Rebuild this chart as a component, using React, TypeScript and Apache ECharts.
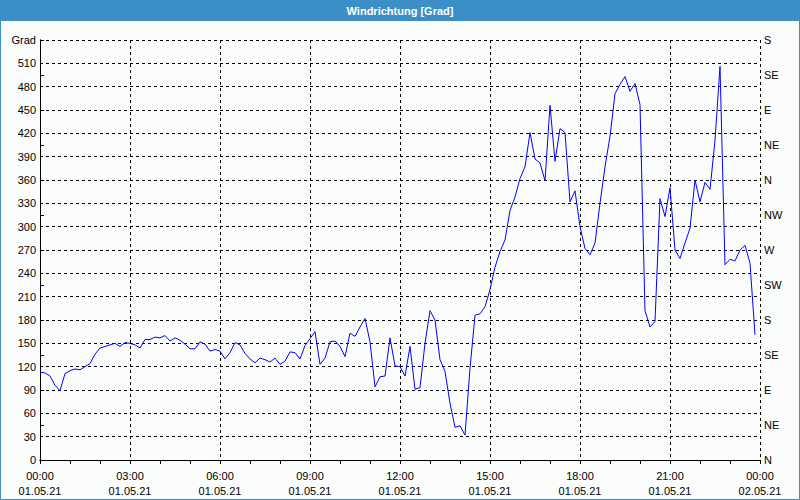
import React, { useEffect, useRef } from "react";
import * as echarts from "echarts";

const TITLE = "Windrichtung [Grad]";
const STEP_MINUTES = 10;
const START_DATE = "01.05.21";
const END_DATE = "02.05.21";
const DIRECTIONS = ["N", "NE", "E", "SE", "S", "SW", "W", "NW", "N", "NE", "E", "SE", "S"];
const VALUES = [
  113, 112, 108, 96, 89, 111, 115, 117, 116, 120,
  124, 136, 144, 146, 148, 150, 146, 151, 150, 148,
  144, 155, 155, 158, 157, 160, 153, 157, 154, 149,
  143, 143, 152, 149, 140, 142, 140, 130, 138, 151,
  148, 137, 130, 125, 131, 129, 126, 131, 123, 127,
  139, 138, 130, 147, 156, 165, 123, 131, 152, 153,
  146, 133, 163, 159, 171, 182, 152, 94, 107, 108,
  157, 121, 120, 108, 146, 91, 93, 150, 192, 180,
  129, 114, 73, 42, 44, 32, 118, 186, 188, 197,
  219, 248, 268, 283, 321, 338, 362, 377, 421, 387,
  382, 359, 456, 384, 426, 421, 332, 346, 300, 272,
  264, 279, 330, 377, 416, 471, 483, 493, 474, 484,
  457, 192, 171, 178, 336, 313, 350, 270, 259, 279,
  298, 360, 332, 357, 348, 411, 506, 251, 258, 256,
  270, 276, 253, 161,
];

const pad = (n: number) => (n < 10 ? "0" + n : "" + n);

export default function App() {
  const ref = useRef<HTMLDivElement>(null);
  useEffect(() => {
    if (!ref.current) return;
    const chart = echarts.init(ref.current, null, { renderer: "svg" });
    const data = VALUES.map((v, i) => [i * STEP_MINUTES, v]);
    const font = "Liberation Sans";
    chart.setOption({
      animation: false,
      backgroundColor: "#fbfdfc",
      textStyle: { fontFamily: font },
      graphic: [
        {
          type: "rect",
          shape: { x: 0, y: 0, width: 800, height: 21 },
          style: { fill: "#3c8fc6" },
          silent: true,
        },
        {
          type: "rect",
          shape: { x: 0.5, y: 0.5, width: 799, height: 499 },
          style: { fill: "none", stroke: "#3c8fc6", lineWidth: 1 },
          silent: true,
        },
        {
          type: "text",
          x: 400,
          y: 11,
          style: {
            text: TITLE,
            fill: "#ffffff",
            font: `bold 11px ${font}`,
            textAlign: "center",
            textVerticalAlign: "middle",
          },
        },
      ],
      grid: { left: 40, right: 40, top: 40, bottom: 40, containLabel: false },
      xAxis: [
        {
          type: "value",
          min: 0,
          max: 1440,
          interval: 180,
          axisLine: { show: true, lineStyle: { color: "#000", width: 1 } },
          axisTick: { show: true, length: 4, lineStyle: { color: "#000" } },
          minorTick: { show: true, splitNumber: 3, length: 4, lineStyle: { color: "#000" } },
          splitLine: { show: true, lineStyle: { color: "#000", type: [3, 3], width: 1 } },
          axisLabel: {
            color: "#000",
            fontSize: 11,
            lineHeight: 15,
            margin: 8,
            formatter: (v: number) => {
              const h = Math.floor(v / 60) % 24;
              const d = v >= 1440 ? END_DATE : START_DATE;
              return `${pad(h)}:00\n${d}`;
            },
          },
        },
        {
          type: "value",
          position: "top",
          min: 0,
          max: 1440,
          axisLine: { show: true, lineStyle: { color: "#000", width: 1 } },
          axisTick: { show: false },
          axisLabel: { show: false },
          splitLine: { show: false },
        },
      ],
      yAxis: [
        {
          type: "value",
          min: 0,
          max: 540,
          interval: 30,
          axisLine: { show: true, lineStyle: { color: "#000", width: 1 } },
          axisTick: { show: false },
          splitLine: { show: true, lineStyle: { color: "#000", type: [3, 3], width: 1 } },
          axisLabel: {
            color: "#000",
            fontSize: 11,
            margin: 4,
            formatter: (v: number) => (v === 540 ? "Grad" : String(v)),
          },
        },
        {
          type: "value",
          position: "right",
          min: 0,
          max: 540,
          interval: 45,
          axisLine: { show: true, lineStyle: { color: "#000", width: 1 } },
          axisTick: { show: true, length: 4, lineStyle: { color: "#000" } },
          splitLine: { show: false },
          axisLabel: {
            color: "#000",
            fontSize: 11,
            margin: 4,
            formatter: (v: number) => DIRECTIONS[Math.round(v / 45)] ?? "",
          },
        },
      ],
      series: [
        {
          type: "line",
          data,
          xAxisIndex: 0,
          yAxisIndex: 0,
          showSymbol: false,
          symbol: "none",
          lineStyle: { color: "#0000ff", width: 1 },
          z: 5,
        },
      ],
    });
    return () => chart.dispose();
  }, []);
  return (
    <div
      ref={ref}
      style={{ position: "fixed", left: 0, top: 0, width: 800, height: 500 }}
    />
  );
}
